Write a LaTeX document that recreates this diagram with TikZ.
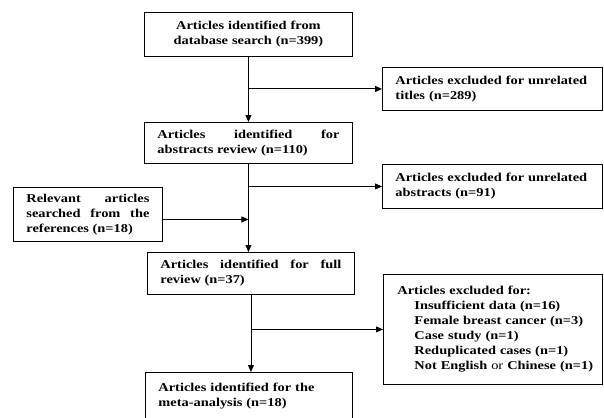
\documentclass[tikz,border=0pt]{standalone}
\usepackage{fontspec}
\setmainfont{Liberation Serif}[FakeStretch=1.2]
\usepackage{tikz}
\usetikzlibrary{arrows.meta,positioning}

\tikzset{
  box/.style={draw, line width=0.9pt, fill=white, anchor=north west,
    inner xsep=13pt, inner ysep=0pt,
    font=\fontsize{12}{15}\selectfont\bfseries},
  flow/.style={line width=0.9pt, -{Triangle[length=7pt,width=6pt]}}
}

\begin{document}
\begin{tikzpicture}[x=1pt, y=-1pt]
  \useasboundingbox (0,0) rectangle (604,417);
  % Main column
  \node[box, text width=182pt, minimum height=44pt, align=center] (ident) at (144,12)
    {Articles identified from\\database search (n=399)};
  \node[box, text width=182pt, minimum height=41pt, align=justify] (abstr) at (144,122)
    {Articles identified for\linebreak abstracts review (n=110)};
  \node[box, text width=181pt, minimum height=42pt, align=justify] (full) at (147,252)
    {Articles identified for full\linebreak review (n=37)};
  \node[box, text width=181pt, minimum height=48pt, align=left] (meta) at (145,372)
    {Articles identified for the\\meta-analysis (n=18)};
  % Excluded articles (right)
  \node[box, text width=194pt, minimum height=43pt, align=left] (extitle) at (382,67)
    {Articles excluded for unrelated\\titles (n=289)};
  \node[box, text width=194pt, minimum height=44pt, align=left] (exabstr) at (382,164)
    {Articles excluded for unrelated\\abstracts (n=91)};
  \node[box, inner xsep=6pt, text width=207pt, minimum height=110pt, align=left] (exfull) at (383,274)
    {\hspace*{8pt}Articles excluded for:\\
     \hspace*{25pt}Insufficient data (n=16)\\
     \hspace*{25pt}Female breast cancer (n=3)\\
     \hspace*{25pt}Case study (n=1)\\
     \hspace*{25pt}Reduplicated cases (n=1)\\
     \hspace*{25pt}Not English \textmd{or} Chinese (n=1)};
  % Extra references (left)
  \node[box, text width=123pt, minimum height=54pt, align=justify] (refs) at (13,187)
    {Relevant articles\linebreak searched from the\linebreak references (n=18)};
  % Connectors
  \draw[flow] (ident.south) -- (abstr.north);
  \draw[flow] (ident.south |- extitle.west) -- (extitle.west);
  \draw[flow] (abstr.south) -- (abstr.south |- full.north);
  \draw[flow] (abstr.south |- exabstr.west) -- (exabstr.west);
  \draw[flow] ([yshift=-5pt]refs.east) -- ([yshift=-5pt]refs.east -| abstr.south);
  \draw[flow] (full.south) -- (full.south |- meta.north);
  \draw[flow] (full.south |- exfull.west) -- (exfull.west);
\end{tikzpicture}
\end{document}
